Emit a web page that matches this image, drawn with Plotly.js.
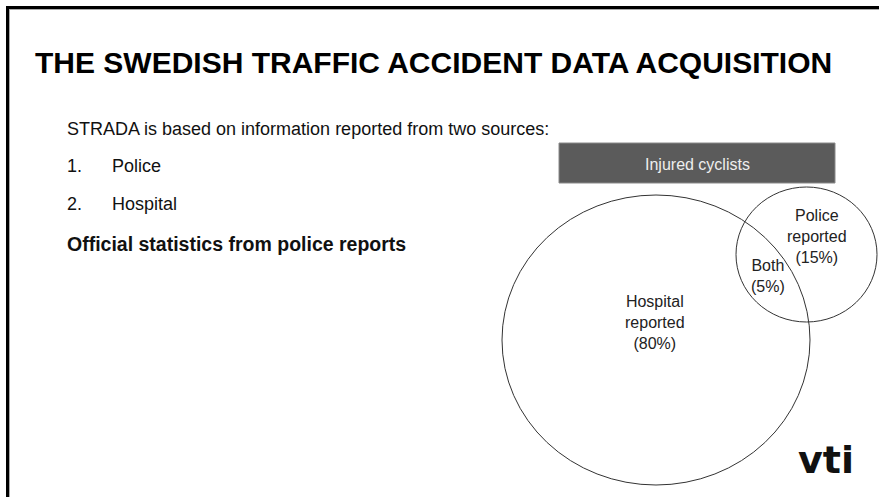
<!DOCTYPE html>
<html>
<head>
<meta charset="utf-8">
<script src="https://cdn.plot.ly/plotly-3.0.1.min.js"></script>
<style>html,body{margin:0;padding:0;background:#fff;}#chart{width:879px;height:497px;}</style>
</head>
<body>
<div id="chart"></div>
<script>
// Data
var title = "THE SWEDISH TRAFFIC ACCIDENT DATA ACQUISITION";
var introText = "STRADA is based on information reported from two sources:";
var sources = ["Police", "Hospital"];
var noteText = "Official statistics from police reports";
var populationLabel = "Injured cyclists";
var setNames = ["Hospital<br>reported", "Police<br>reported", "Both"];
var setShares = [80, 15, 5];
var logoText = "vti";

var F = "Liberation Sans, Arial, sans-serif";
var shapes = [
  // slide frame
  {type:"line", x0:6, x1:879, y0:7.5, y1:7.5, line:{color:"#000", width:3}},
  {type:"line", x0:9, x1:879, y0:9.5, y1:9.5, line:{color:"#aaa", width:1}},
  {type:"line", x0:7.5, x1:7.5, y0:6, y1:497, line:{color:"#000", width:3}},
  {type:"line", x0:9.5, x1:9.5, y0:9, y1:497, line:{color:"#aaa", width:1}},
  // population box
  {type:"rect", x0:559, x1:835, y0:143, y1:183, fillcolor:"#5b5b5b", line:{color:"#8a8a8a", width:1}},
  // hospital set
  {type:"circle", x0:502, x1:810, y0:195, y1:485, line:{color:"#333", width:1}},
  // police set
  {type:"circle", x0:736, x1:877, y0:187, y1:322, line:{color:"#333", width:1}}
];

var ann = [];
ann.push({x:33, y:62, text:"<b>"+title+"</b>", xanchor:"left", yanchor:"middle", showarrow:false, font:{family:F, size:30, color:"#000"}});
ann.push({x:65, y:129, text:introText, xanchor:"left", yanchor:"middle", showarrow:false, font:{family:F, size:18, color:"#111"}});
sources.forEach(function(s, i){
  var y = 166 + i*38;
  ann.push({x:65, y:y, text:(i+1)+".", xanchor:"left", yanchor:"middle", showarrow:false, font:{family:F, size:18, color:"#111"}});
  ann.push({x:110, y:y, text:s, xanchor:"left", yanchor:"middle", showarrow:false, font:{family:F, size:18, color:"#111"}});
});
ann.push({x:65, y:244, text:"<b>"+noteText+"</b>", xanchor:"left", yanchor:"middle", showarrow:false, font:{family:F, size:19.5, color:"#111"}});
ann.push({x:697, y:164, text:populationLabel, xanchor:"center", yanchor:"middle", showarrow:false, font:{family:F, size:16, color:"#eeeeee"}});

var labelPos = [[655, 322], [817, 236], [768, 276]];
setNames.forEach(function(n, i){
  ann.push({x:labelPos[i][0], y:labelPos[i][1], text:n+"<br>("+setShares[i]+"%)", xanchor:"center", yanchor:"middle", showarrow:false, align:"center", font:{family:F, size:16, color:"#222"}});
});
ann.push({x:826, y:460, text:"<b>"+logoText+"</b>", xanchor:"center", yanchor:"middle", showarrow:false, font:{family:"DejaVu Sans, sans-serif", size:38, color:"#111"}});

var layout = {
  width:879, height:497,
  margin:{l:0, r:0, t:0, b:0},
  paper_bgcolor:"#fff", plot_bgcolor:"#fff",
  xaxis:{range:[0,879], visible:false, fixedrange:true},
  yaxis:{range:[497,0], visible:false, fixedrange:true},
  shapes:shapes, annotations:ann, showlegend:false
};
Plotly.newPlot("chart", [{x:[], y:[], type:"scatter"}], layout, {staticPlot:true});
</script>
</body>
</html>
